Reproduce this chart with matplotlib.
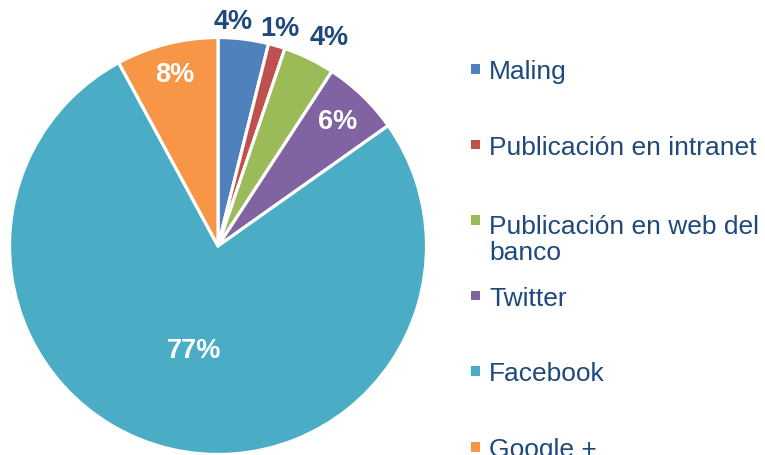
import matplotlib
matplotlib.use("Agg")
import matplotlib.pyplot as plt
from matplotlib.patches import Rectangle
import numpy as np

plt.rcParams['font.family'] = ['Liberation Sans', 'DejaVu Sans']

categories = ["Maling", "Publicación en intranet", "Publicación en web del\nbanco",
              "Twitter", "Facebook", "Google +"]
values = [3.9, 1.3, 4.0, 6.0, 76.9, 7.9]
colors = ["#4F81BD", "#C0504D", "#9BBB59", "#8064A2", "#4BACC6", "#F79646"]
label_dist = [1.08, 1.087, 1.135, 0.83, 0.51, 0.85]
label_angle_shift = [3.2, 0.5, -2.1, 0, 0, 0]
label_colors = ["#1F497D", "#1F497D", "#1F497D", "white", "white", "white"]

W, H = 765, 456
fig = plt.figure(figsize=(W / 100, H / 100), dpi=100)

cx, cy, r = 218, 247, 208.5
ax = fig.add_axes([(cx - r) / W, (H - cy - r) / H, 2 * r / W, 2 * r / H])
wedges, _ = ax.pie(values, colors=colors, startangle=90, counterclock=False,
                   wedgeprops=dict(edgecolor="white", linewidth=2.3))
ax.set_xlim(-1, 1)
ax.set_ylim(-1, 1)
ax.set_aspect('equal', adjustable='box')
ax.axis('off')

total = sum(values)
for w, v, d, s, c in zip(wedges, values, label_dist, label_angle_shift, label_colors):
    ang = np.deg2rad((w.theta1 + w.theta2) / 2 + s)
    ax.text(d * np.cos(ang), d * np.sin(ang), f"{round(v / total * 100)}%",
            ha='center', va='center', fontsize=19.5, fontweight='bold', color=c)

# legend
fs = 19
ls = 1.13
line_px = fs * 100 / 72 * ls
text_x = 489
sq_x = 471
sq = 9.5
base0 = 79
step = 75.6
for i, (cat, col) in enumerate(zip(categories, colors)):
    base = base0 + step * i
    nextra = cat.count("\n")
    fig.text(text_x / W, 1 - (base + nextra * line_px) / H, cat, ha='left', va='baseline',
             fontsize=fs, color="#1F497D", linespacing=ls)
    fig.add_artist(Rectangle((sq_x / W, 1 - (base - 4.5) / H), sq / W, sq / H,
                             transform=fig.transFigure, facecolor=col, edgecolor='none'))

fig.savefig("out.png", dpi=100)
